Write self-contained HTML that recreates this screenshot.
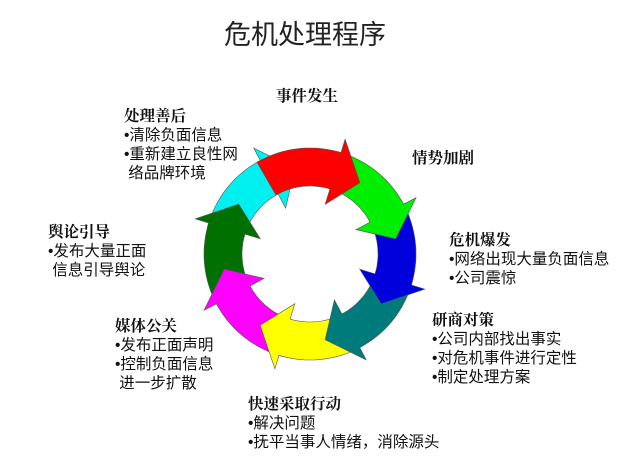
<!DOCTYPE html>
<html><head><meta charset="utf-8"><style>
body{margin:0;background:#fff;width:625px;height:471px;overflow:hidden;position:relative;font-family:"Liberation Sans","Noto Sans CJK SC",sans-serif;}
.t{position:absolute;font-size:15.5px;line-height:19px;color:#111;white-space:nowrap;}
.t b{font-family:"Noto Serif CJK SC","Noto Sans CJK SC",serif;font-weight:bold;font-size:15.5px;}
h1{position:absolute;left:0;width:610px;text-align:center;top:19px;margin:0;font-weight:normal;font-size:27px;line-height:32px;color:#222;}
svg{position:absolute;left:0;top:0;}
</style></head><body>
<h1>危机处理程序</h1>
<svg width="625" height="471" id="s"></svg>
<div class="t" style="left:276px;top:86px"><b>事件发生</b></div>
<div class="t" style="left:412px;top:148px"><b>情势加剧</b></div>
<div class="t" style="left:449px;top:230px"><b>危机爆发</b><br>•网络出现大量负面信息<br>•公司震惊</div>
<div class="t" style="left:432px;top:310px"><b>研商对策</b><br>•公司内部找出事实<br>•对危机事件进行定性<br>•制定处理方案</div>
<div class="t" style="left:248px;top:394px"><b>快速采取行动</b><br>•解决问题<br>•抚平当事人情绪，消除源头</div>
<div class="t" style="left:115px;top:316px"><b>媒体公关</b><br>•发布正面声明<br>•控制负面信息<br>&nbsp;进一步扩散</div>
<div class="t" style="left:48px;top:222px"><b>舆论引导</b><br>•发布大量正面<br>&nbsp;信息引导舆论</div>
<div class="t" style="left:124px;top:106px"><b>处理善后</b><br>•清除负面信息<br>•重新建立良性网<br>&nbsp;络品牌环境</div>
<script>
var cx=310,cy=254,cols=["#ff0000","#00ee00","#0000dd","#007b7b","#ffff00","#ff00ff","#007000","#00f0f0"];
function P(a,r){a=a*Math.PI/180;return (cx+r*Math.sin(a)).toFixed(1)+","+(cy-r*Math.cos(a)).toFixed(1);}
var s="";
for(var k=7;k>=0;k--){
 var t0=-30+45*k,h=17+45*k,tip=h+18;
 var d="M"+P(t0,106)+" ";
 for(var a=t0;a<=h;a+=3)d+="L"+P(a,106)+" ";
 d+="L"+P(h,106)+" L"+P(h,120)+" L"+P(tip,87)+" L"+P(h,52)+" L"+P(h,68)+" ";
 for(var a=h;a>=t0;a-=3)d+="L"+P(a,68)+" ";
 d+="L"+P(t0,68)+"Z";
 s+='<path d="'+d+'" fill="'+cols[k]+'" stroke="#555" stroke-width="0.6"/>';
}
document.getElementById("s").innerHTML=s;
</script>
</body></html>
